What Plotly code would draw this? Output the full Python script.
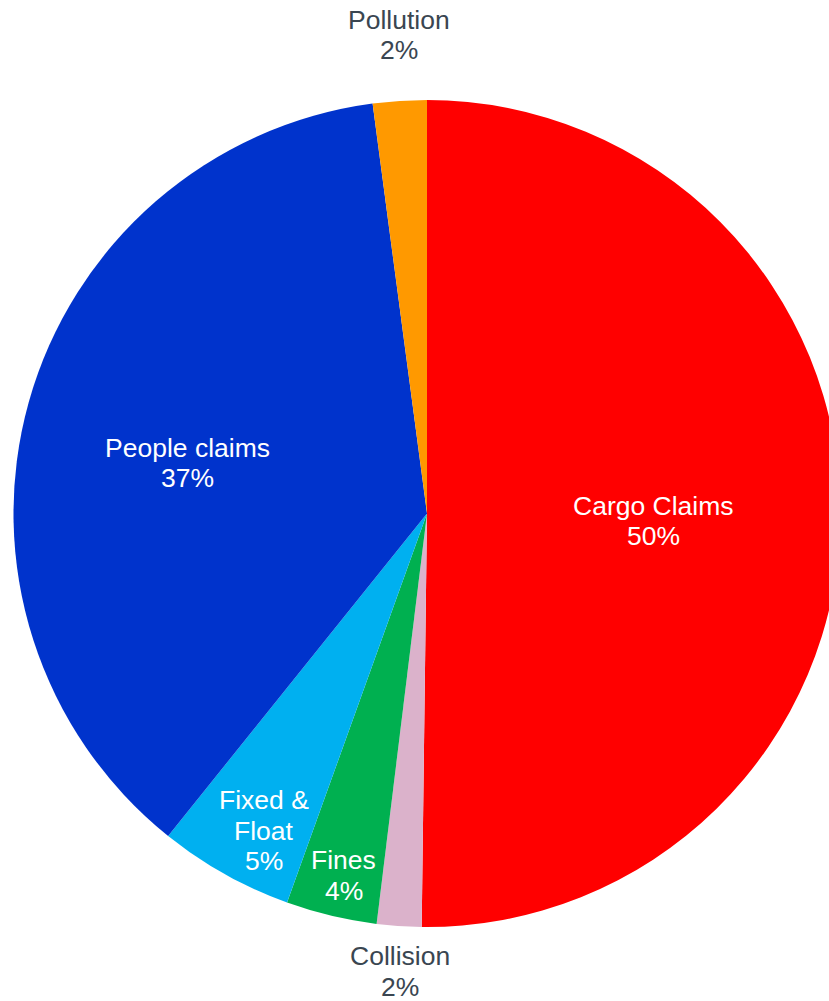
import math
import plotly.graph_objects as go

# ---- data ----
labels = ["Cargo Claims", "Collision", "Fines", "Fixed & Float", "People claims", "Pollution"]
label_lines = [["Cargo Claims"], ["Collision"], ["Fines"], ["Fixed &", "Float"], ["People claims"], ["Pollution"]]
values = [50.2, 1.74, 3.55, 5.27, 37.13, 2.1]

# ---- style ----
colors = ["#FF0000", "#DBB2CB", "#00B050", "#00B0F0", "#0033CC", "#FF9900"]
inside = [True, False, True, True, True, False]
label_radius = [0.548, 1.11, 0.90, 0.86, 0.60, 1.16]   # fraction of pie radius
label_shift = [(0, -6), (4, 0), (3, 0), (11, -7), (-1, -16), (4, 0)]  # px fine tuning

W, H = 854, 1001
dom_y = [1 - 927 / H, 1 - 100 / H]
FONT = "Liberation Sans, Arial, sans-serif"
FS = 26.5
LINE_H = 30.5

fig = go.Figure(go.Pie(
    labels=labels,
    values=values,
    sort=False,
    direction="clockwise",
    rotation=0,
    marker=dict(colors=colors, line=dict(width=0)),
    textinfo="none",
    domain=dict(x=[0, 1], y=dom_y),
    hoverinfo="label+percent",
))

# label positions derived from the slice angles
cx, cy = W / 2, H * (1 - (dom_y[0] + dom_y[1]) / 2)
R = min(W, H * (dom_y[1] - dom_y[0])) / 2
total = sum(values)
cum = 0.0
annotations = []
for i, v in enumerate(values):
    mid = (cum + v / 2) / total * 2 * math.pi
    cum += v
    r = label_radius[i] * R
    px = cx + r * math.sin(mid)
    py = cy - r * math.cos(mid)
    pct = round(v / total * 100)
    lines = label_lines[i] + [f"{pct}%"]
    n = len(lines)
    for k, line in enumerate(lines):
        ly = py + (k - (n - 1) / 2) * LINE_H
        annotations.append(dict(
            x=px / W, y=1 - ly / H, xref="paper", yref="paper",
            xshift=label_shift[i][0], yshift=label_shift[i][1],
            text=line,
            showarrow=False, xanchor="center", yanchor="middle", align="center",
            font=dict(family=FONT, size=FS, color="white" if inside[i] else "#3a4651"),
        ))

fig.update_layout(
    width=W,
    height=H,
    margin=dict(l=0, r=0, t=0, b=0),
    paper_bgcolor="white",
    plot_bgcolor="white",
    showlegend=False,
    font=dict(family=FONT, size=FS, color="#3a4651"),
    annotations=annotations,
)

fig.write_html(
    "out.html",
    config={"displayModeBar": False},
    post_script=(
        "document.body.style.margin='0';"
        "document.documentElement.style.overflow='hidden';"
        "document.body.style.overflow='hidden';"
    ),
)
